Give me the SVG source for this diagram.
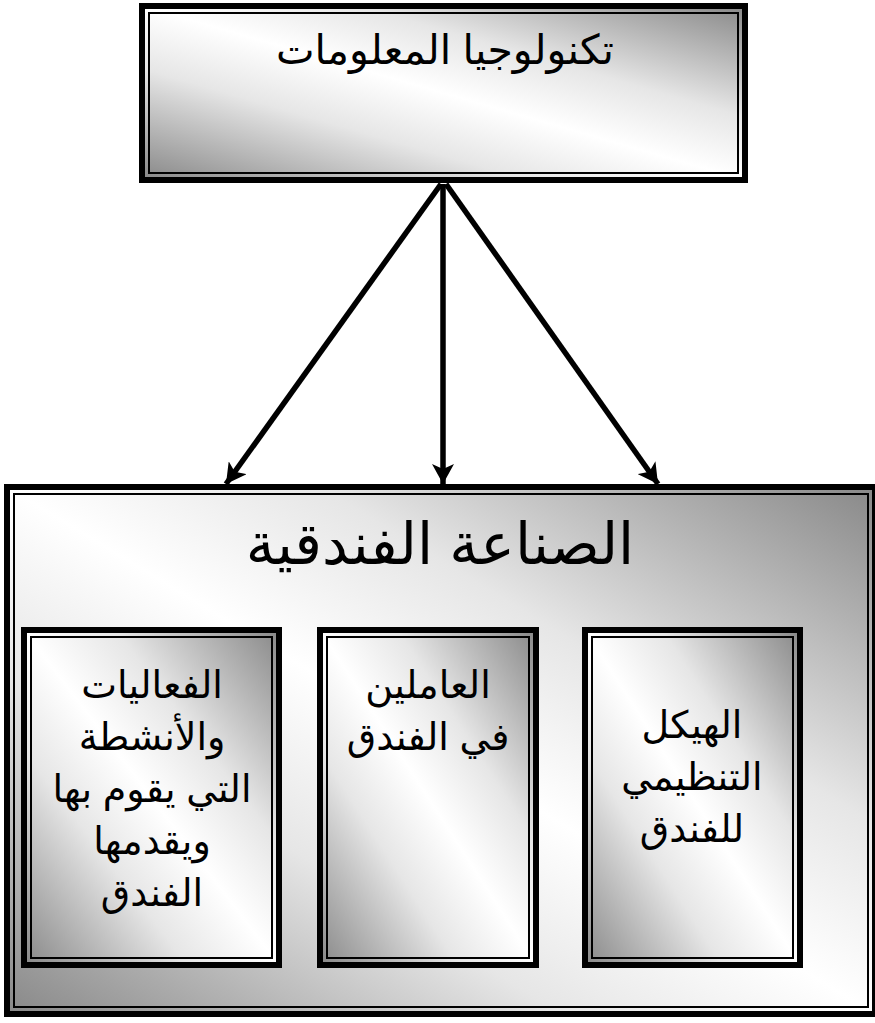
<svg xmlns="http://www.w3.org/2000/svg" width="875" height="1023" viewBox="0 0 875 1023">
<style>
.frame{stroke:#000;stroke-width:6}
.thin{fill:none;stroke:#000;stroke-width:2}
.t{font-family:"Liberation Sans","DejaVu Sans",Arial,sans-serif;fill:#000;text-anchor:middle;direction:rtl}
.conn{stroke:#000;stroke-width:5.5;fill:none}
</style>
<defs>
<linearGradient id="g" x1="0" y1="1" x2="1" y2="0">
<stop offset="0" stop-color="#888888"/>
<stop offset="0.15" stop-color="#b4b4b4"/>
<stop offset="0.32" stop-color="#e6e6e6"/>
<stop offset="0.5" stop-color="#ffffff"/>
<stop offset="0.68" stop-color="#e6e6e6"/>
<stop offset="0.85" stop-color="#b4b4b4"/>
<stop offset="1" stop-color="#888888"/>
</linearGradient>
<marker id="ah" viewBox="0 0 20 22" refX="20" refY="11" markerWidth="20" markerHeight="22" orient="auto" markerUnits="userSpaceOnUse">
<path d="M0,0 L20,11 L0,22 L5,11 z" fill="#000"/>
</marker>
</defs>
<g id="node-it">
<rect class="frame" x="142" y="6" width="603" height="174" fill="url(#g)"/>
<rect class="thin" x="149" y="13" width="589" height="160"/>
<text class="t" x="445" y="64" font-size="41">تكنولوجيا المعلومات</text>
</g>
<g id="node-industry">
<rect class="frame" x="7" y="487" width="868" height="527" fill="url(#g)"/>
<rect class="thin" x="14" y="494" width="854" height="513"/>
<text class="t" x="440" y="564" font-size="58">الصناعة الفندقية</text>
</g>
<g id="node-activities">
<rect class="frame" x="24" y="630" width="255" height="335" fill="url(#g)"/>
<rect class="thin" x="31" y="637" width="241" height="321"/>
<text class="t" font-size="38"><tspan x="152" y="698">الفعاليات</tspan><tspan x="152" y="750">والأنشطة</tspan><tspan x="152" y="802">التي يقوم بها</tspan><tspan x="152" y="854">ويقدمها</tspan><tspan x="152" y="906">الفندق</tspan></text>
</g>
<g id="node-staff">
<rect class="frame" x="320" y="630" width="216" height="335" fill="url(#g)"/>
<rect class="thin" x="327" y="637" width="202" height="321"/>
<text class="t" font-size="38"><tspan x="428" y="698">العاملين</tspan><tspan x="428" y="750">في الفندق</tspan></text>
</g>
<g id="node-structure">
<rect class="frame" x="585" y="630" width="215" height="335" fill="url(#g)"/>
<rect class="thin" x="592" y="637" width="201" height="321"/>
<text class="t" font-size="38"><tspan x="692" y="738">الهيكل</tspan><tspan x="692" y="790">التنظيمي</tspan><tspan x="692" y="842">للفندق</tspan></text>
</g>
<g id="connectors">
<line class="conn" x1="441" y1="184" x2="226" y2="484" marker-end="url(#ah)"/>
<line class="conn" x1="443" y1="184" x2="443" y2="484" marker-end="url(#ah)"/>
<line class="conn" x1="446" y1="184" x2="658" y2="484" marker-end="url(#ah)"/>
</g>
</svg>
